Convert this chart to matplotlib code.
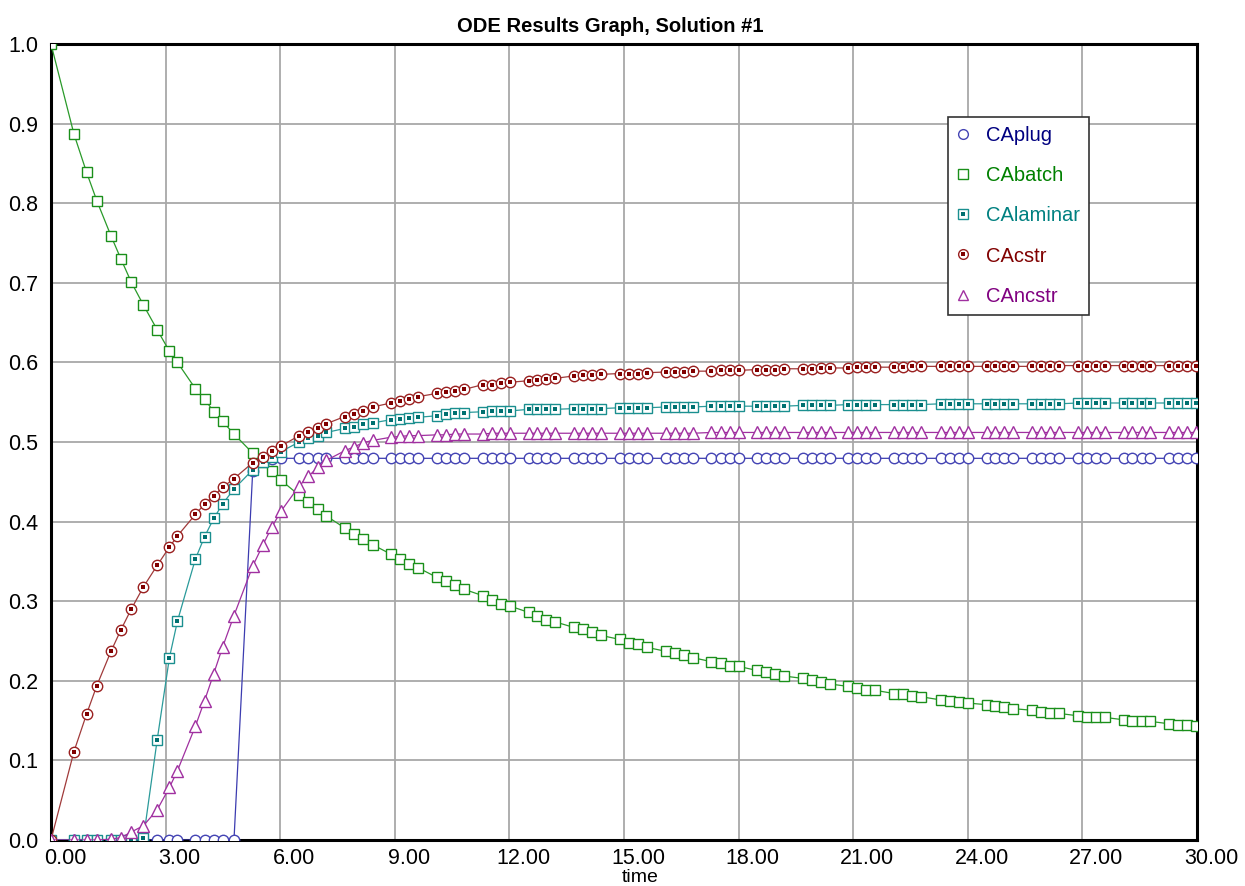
import matplotlib
matplotlib.use('Agg')
import matplotlib.pyplot as plt
import matplotlib.transforms as mtransforms
from matplotlib.lines import Line2D
from matplotlib.legend_handler import HandlerTuple

plt.rcParams['font.family'] = ['Liberation Sans', 'DejaVu Sans']

# time points (shared by all series)
time = [0.00, 0.60, 0.93, 1.20, 1.57, 1.83, 2.10, 2.42, 2.78, 3.10, 3.31, 3.78, 4.02, 4.26, 4.49, 4.79,
        5.28, 5.54, 5.78, 6.02, 6.50, 6.74, 6.98, 7.21, 7.69, 7.94, 8.17, 8.42,
        8.90, 9.14, 9.37, 9.61, 10.10, 10.34, 10.58, 10.81, 11.30, 11.54, 11.77, 12.01,
        12.50, 12.73, 12.97, 13.20, 13.69, 13.93, 14.16, 14.40, 14.89, 15.12, 15.36, 15.60,
        16.10, 16.34, 16.58, 16.81, 17.29, 17.53, 17.77, 18.01, 18.48, 18.71, 18.95, 19.19,
        19.68, 19.91, 20.15, 20.38, 20.87, 21.11, 21.34, 21.58, 22.07, 22.30, 22.54, 22.77,
        23.29, 23.53, 23.76, 24.01, 24.49, 24.72, 24.96, 25.19, 25.68, 25.92, 26.15, 26.39,
        26.89, 27.12, 27.36, 27.59, 28.08, 28.31, 28.55, 28.78, 29.27, 29.51, 29.74, 29.98]

ca_plug = [0, 0, 0, 0, 0, 0, 0, 0, 0, 0, 0, 0, 0, 0, 0, 0,
           0.463, 0.478, 0.479, 0.4795, 0.4795, 0.4795, 0.4795, 0.4795, 0.4795, 0.4795, 0.4795, 0.4795,
           0.4795, 0.4795, 0.4795, 0.4795, 0.4795, 0.4795, 0.4795, 0.4795, 0.4795, 0.4795, 0.4795, 0.4795,
           0.4795, 0.4795, 0.4795, 0.4795, 0.4795, 0.4795, 0.4795, 0.4795, 0.4795, 0.4795, 0.4795, 0.4795,
           0.4795, 0.4795, 0.4795, 0.4795, 0.4795, 0.4795, 0.4795, 0.4795, 0.4795, 0.4795, 0.4795, 0.4795,
           0.4795, 0.4795, 0.4795, 0.4795, 0.4795, 0.4795, 0.4795, 0.4795, 0.4795, 0.4795, 0.4795, 0.4795,
           0.4795, 0.4795, 0.4795, 0.4795, 0.4795, 0.4795, 0.4795, 0.4795, 0.4795, 0.4795, 0.4795, 0.4795,
           0.4795, 0.4795, 0.4795, 0.4795, 0.4795, 0.4795, 0.4795, 0.4795, 0.4795, 0.4795, 0.4795, 0.4795]

ca_batch = [1.0, 0.887, 0.839, 0.803, 0.759, 0.730, 0.701, 0.672, 0.641, 0.614, 0.600, 0.567, 0.554, 0.538, 0.526, 0.510,
            0.486, 0.475, 0.463, 0.452, 0.433, 0.425, 0.416, 0.407, 0.392, 0.385, 0.378, 0.371,
            0.359, 0.353, 0.347, 0.342, 0.330, 0.325, 0.320, 0.315, 0.307, 0.302, 0.297, 0.294,
            0.286, 0.282, 0.277, 0.274, 0.267, 0.265, 0.261, 0.257, 0.252, 0.248, 0.246, 0.242,
            0.237, 0.235, 0.232, 0.229, 0.224, 0.222, 0.219, 0.218, 0.213, 0.211, 0.208, 0.206,
            0.203, 0.201, 0.199, 0.196, 0.193, 0.191, 0.189, 0.188, 0.184, 0.183, 0.181, 0.180,
            0.176, 0.175, 0.173, 0.172, 0.170, 0.168, 0.167, 0.165, 0.163, 0.161, 0.160, 0.159,
            0.156, 0.155, 0.155, 0.154, 0.151, 0.150, 0.150, 0.149, 0.146, 0.145, 0.144, 0.143]

ca_laminar = [0, 0, 0, 0, 0, 0, 0, 0.002, 0.126, 0.229, 0.275, 0.353, 0.381, 0.404, 0.422, 0.441,
              0.465, 0.475, 0.481, 0.488, 0.500, 0.505, 0.508, 0.512, 0.517, 0.519, 0.522, 0.524,
              0.528, 0.529, 0.530, 0.531, 0.533, 0.535, 0.536, 0.537, 0.538, 0.539, 0.539, 0.539,
              0.541, 0.541, 0.541, 0.541, 0.542, 0.542, 0.542, 0.542, 0.543, 0.543, 0.543, 0.543,
              0.544, 0.544, 0.544, 0.544, 0.545, 0.545, 0.545, 0.545, 0.545, 0.545, 0.545, 0.545,
              0.546, 0.546, 0.546, 0.546, 0.547, 0.547, 0.547, 0.547, 0.547, 0.547, 0.547, 0.547,
              0.548, 0.548, 0.548, 0.548, 0.548, 0.548, 0.548, 0.548, 0.548, 0.548, 0.548, 0.548,
              0.549, 0.549, 0.549, 0.549, 0.549, 0.549, 0.549, 0.549, 0.549, 0.549, 0.549, 0.549]

ca_cstr = [0, 0.111, 0.158, 0.194, 0.237, 0.264, 0.290, 0.318, 0.345, 0.368, 0.382, 0.409, 0.422, 0.432, 0.443, 0.454,
           0.474, 0.481, 0.489, 0.495, 0.508, 0.513, 0.517, 0.523, 0.532, 0.535, 0.539, 0.544,
           0.549, 0.552, 0.554, 0.557, 0.561, 0.563, 0.564, 0.566, 0.572, 0.572, 0.574, 0.575,
           0.577, 0.578, 0.579, 0.580, 0.583, 0.584, 0.584, 0.585, 0.586, 0.586, 0.586, 0.587,
           0.588, 0.588, 0.588, 0.589, 0.589, 0.590, 0.590, 0.590, 0.591, 0.591, 0.591, 0.592,
           0.592, 0.592, 0.593, 0.593, 0.593, 0.594, 0.594, 0.594, 0.594, 0.594, 0.595, 0.595,
           0.595, 0.595, 0.595, 0.595, 0.595, 0.595, 0.595, 0.595, 0.595, 0.595, 0.596, 0.596,
           0.596, 0.596, 0.596, 0.596, 0.596, 0.596, 0.596, 0.596, 0.596, 0.596, 0.596, 0.596]

ca_ncstr = [0, 0, 0, 0, 0.001, 0.003, 0.010, 0.018, 0.038, 0.066, 0.087, 0.143, 0.175, 0.209, 0.242, 0.282,
            0.344, 0.370, 0.393, 0.413, 0.445, 0.457, 0.468, 0.477, 0.489, 0.494, 0.499, 0.502,
            0.506, 0.507, 0.508, 0.508, 0.509, 0.509, 0.510, 0.510, 0.510, 0.511, 0.511, 0.511,
            0.511, 0.511, 0.511, 0.511, 0.511, 0.511, 0.511, 0.511, 0.511, 0.511, 0.511, 0.511,
            0.511, 0.511, 0.511, 0.511, 0.512, 0.512, 0.512, 0.512, 0.512, 0.512, 0.512, 0.512,
            0.512, 0.512, 0.512, 0.512, 0.512, 0.512, 0.512, 0.512, 0.512, 0.512, 0.512, 0.512,
            0.512, 0.512, 0.512, 0.512, 0.512, 0.512, 0.512, 0.512, 0.512, 0.512, 0.512, 0.512,
            0.512, 0.512, 0.512, 0.512, 0.512, 0.512, 0.512, 0.512, 0.512, 0.512, 0.512, 0.512]

labels = ['CAplug', 'CAbatch', 'CAlaminar', 'CAcstr', 'CAncstr']
text_colors = ['#000080', '#008000', '#008080', '#800000', '#800080']

xticks = [0, 3, 6, 9, 12, 15, 18, 21, 24, 27, 30]
yticks = [0.0, 0.1, 0.2, 0.3, 0.4, 0.5, 0.6, 0.7, 0.8, 0.9, 1.0]

W, H = 1245, 886
fig = plt.figure(figsize=(W / 100, H / 100), dpi=100)
ax = fig.add_axes([51 / W, 1 - 840 / H, (1197 - 51) / W, (840 - 44) / H])

# plug flow - open circles
ax.plot(time, ca_plug, color='#3c3cb0', lw=0.9, marker='o', ms=7.5, mfc='white',
        mec='#4444b4', mew=1.0, zorder=3)
# batch - open squares
ax.plot(time, ca_batch, color='#2a9a2a', lw=0.9, marker='s', ms=7, mfc='white',
        mec='#1a8f1a', mew=1.0, zorder=4)
# laminar - squares with a dot
ax.plot(time, ca_laminar, color='#2a9a9a', lw=0.9, marker='s', ms=7, mfc='white',
        mec='#1a8f8f', mew=1.0, zorder=5)
ax.plot(time, ca_laminar, ls='none', marker='s', ms=2.6, color='#007070', mew=0, zorder=5.1)
# cstr - circles with a dot
ax.plot(time, ca_cstr, color='#a03a3a', lw=0.9, marker='o', ms=7.5, mfc='white',
        mec='#9a2020', mew=1.0, zorder=6)
ax.plot(time, ca_cstr, ls='none', marker='s', ms=2.6, color='#800000', mew=0, zorder=6.1)
# non-ideal cstr - triangles
ax.plot(time, ca_ncstr, color='#a030a0', lw=0.9, marker='^', ms=8, mfc='white',
        mec='#a030a0', mew=1.0, zorder=7)

ax.set_xlim(0, 30)
ax.set_ylim(0, 1.0)
ax.set_xticks(xticks)
ax.set_xticklabels(['%.2f' % v for v in xticks])
ax.set_yticks(yticks)
ax.set_yticklabels(['%.1f' % v for v in yticks])
ax.tick_params(length=0, labelsize=15.5)
ax.tick_params(axis='x', pad=6)
ax.tick_params(axis='y', pad=9)
shift = mtransforms.ScaledTranslation(14 / 100, 0, fig.dpi_scale_trans)
for lab in ax.get_xticklabels():
    lab.set_transform(lab.get_transform() + shift)

ax.grid(True, color='#a8a8a8', lw=1.3)
ax.set_axisbelow(True)
for sp in ax.spines.values():
    sp.set_linewidth(2.2)
    sp.set_color('black')

fig.text(610 / W, 1 - 27 / H, 'ODE Results Graph, Solution #1', ha='center', va='center',
         fontsize=14.5, fontweight='bold')
fig.text(640 / W, 1 - 877 / H, 'time', ha='center', va='center', fontsize=14)

# legend
h_plug = Line2D([], [], ls='none', marker='o', ms=7, mfc='white', mec='#4444b4', mew=1.0)
h_batch = Line2D([], [], ls='none', marker='s', ms=6.5, mfc='white', mec='#1a8f1a', mew=1.0)
h_lam = (Line2D([], [], ls='none', marker='s', ms=6.5, mfc='white', mec='#1a8f8f', mew=1.0),
         Line2D([], [], ls='none', marker='s', ms=2.4, color='#007070', mew=0))
h_cstr = (Line2D([], [], ls='none', marker='o', ms=7, mfc='white', mec='#9a2020', mew=1.0),
          Line2D([], [], ls='none', marker='s', ms=2.4, color='#800000', mew=0))
h_ncstr = Line2D([], [], ls='none', marker='^', ms=7.5, mfc='white', mec='#a030a0', mew=1.0)

leg = ax.legend([h_plug, h_batch, h_lam, h_cstr, h_ncstr], labels,
                loc='upper left', bbox_to_anchor=(948 / W, 1 - 117 / H),
                bbox_transform=fig.transFigure, fontsize=14.5, frameon=True,
                fancybox=False, framealpha=1, edgecolor='#333333',
                handlelength=0.6, handletextpad=0.85, labelspacing=1.05,
                borderpad=0.45, borderaxespad=0,
                handler_map={tuple: HandlerTuple(ndivide=1)})
leg.get_frame().set_linewidth(1.2)
for txt, c in zip(leg.get_texts(), text_colors):
    txt.set_color(c)

fig.savefig('out.png', dpi=100)
